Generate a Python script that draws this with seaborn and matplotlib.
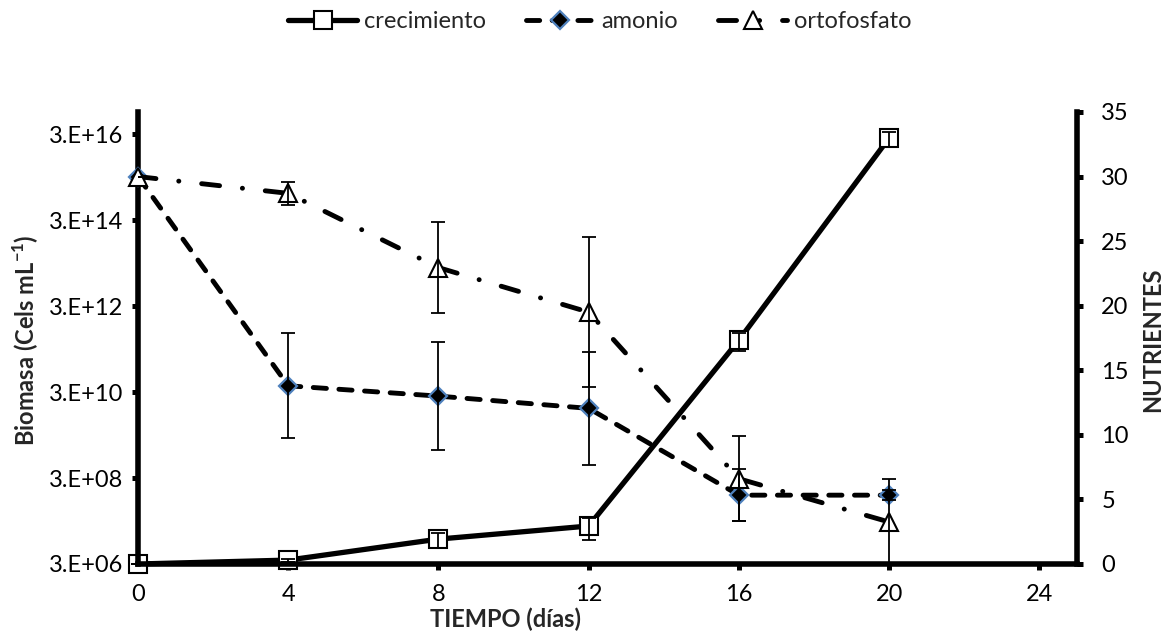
import matplotlib
matplotlib.use("Agg")
import matplotlib.pyplot as plt
import seaborn as sns
import pandas as pd

# ---- data ----
days = [0, 4, 8, 12, 16, 20]
crecimiento = [3.0e6, 3.7e6, 1.14e7, 2.3e7, 4.9e11, 2.5e16]
crecimiento_err = [0, 3e5, 4.5e6, 1.2e7, 2.2e11, 9.5e15]
amonio = [30.0, 13.8, 13.0, 12.05, 5.33, 5.33]
amonio_err = [0, 4.05, 4.2, 4.35, 2.0, 0.4]
ortofosfato = [30.0, 28.7, 22.95, 19.5, 6.6, 3.25]
ortofosfato_err = [0, 0.9, 3.5, 5.8, 3.3, 3.3]

left_ticks = [3e6, 3e8, 3e10, 3e12, 3e14, 3e16]
left_labels = ["3.E+06", "3.E+08", "3.E+10", "3.E+12", "3.E+14", "3.E+16"]
right_ticks = [0, 5, 10, 15, 20, 25, 30, 35]
x_ticks = [0, 4, 8, 12, 16, 20, 24]

sns.set_theme(style="white")
plt.rcParams["font.family"] = ["Lato", "DejaVu Sans"]
plt.rcParams["mathtext.fontset"] = "custom"
plt.rcParams["mathtext.rm"] = "Lato"
plt.rcParams["mathtext.bf"] = "Lato:bold"
plt.rcParams["lines.scale_dashes"] = False

df = pd.DataFrame({"dia": days, "crecimiento": crecimiento,
                   "amonio": amonio, "ortofosfato": ortofosfato})

FS = 17
W, H = 1168, 636
fig = plt.figure(figsize=(W / 100, H / 100), dpi=100)
ax = fig.add_axes([138 / W, 1 - 564 / H, (1077 - 138) / W, (564 - 112) / H])
ax.set_facecolor("none")
ax.set_yscale("log")

sns.lineplot(data=df, x="dia", y="crecimiento", ax=ax, color="black",
             linewidth=3.8, marker="s", markersize=13,
             markerfacecolor="white", markeredgecolor="black",
             markeredgewidth=1.5, label="crecimiento", clip_on=False,
             solid_joinstyle="round")
ax.errorbar(days, crecimiento, yerr=crecimiento_err, fmt="none",
            ecolor="black", elinewidth=1.3, capsize=5, capthick=1.3,
            zorder=5, clip_on=False)

ax2 = ax.twinx()
sns.lineplot(data=df, x="dia", y="amonio", ax=ax2, color="black",
             linewidth=3.5, linestyle=(0, (9.5, 9.0)),
             dash_capstyle="round", marker="D", markersize=9.5,
             markerfacecolor="black", markeredgecolor="#4F81BD",
             markeredgewidth=1.6, label="amonio", clip_on=False)
sns.lineplot(data=df, x="dia", y="ortofosfato", ax=ax2, color="black",
             linewidth=3.5, linestyle=(0, (13, 16.5, 0.1, 16.5)),
             dash_capstyle="round", marker="^", markersize=13,
             markerfacecolor="white", markeredgecolor="black",
             markeredgewidth=1.5, label="ortofosfato", clip_on=False)
ax2.errorbar(days, amonio, yerr=amonio_err, fmt="none", ecolor="black",
             elinewidth=1.3, capsize=5, capthick=1.3, zorder=5)
ax2.errorbar(days, ortofosfato, yerr=ortofosfato_err, fmt="none",
             ecolor="black", elinewidth=1.3, capsize=5, capthick=1.3,
             zorder=5)

# ---- axes ----
ax.set_xlim(0, 25)
ax.set_ylim(3e6, 1.0e17)
ax2.set_ylim(0, 35)
ax.set_xticks(x_ticks)
ax.set_xticklabels([str(t) for t in x_ticks])
ax.set_yticks(left_ticks)
ax.set_yticklabels(left_labels)
ax.yaxis.set_minor_locator(matplotlib.ticker.NullLocator())
ax2.set_yticks(right_ticks)
ax2.set_yticklabels([str(t) for t in right_ticks])

for a in (ax, ax2):
    a.spines["top"].set_visible(False)
ax.spines["right"].set_visible(False)
ax2.spines["left"].set_visible(False)
ax2.spines["bottom"].set_visible(False)
for s in ("left", "bottom"):
    ax.spines[s].set_linewidth(4)
    ax.spines[s].set_color("black")
ax2.spines["right"].set_linewidth(4)
ax2.spines["right"].set_color("black")

ax.tick_params(axis="y", which="major", direction="out", length=4.5,
               width=3.6, color="black", labelsize=FS, labelcolor="black",
               pad=6, left=True)
ax.tick_params(axis="x", which="major", direction="out", length=4.5,
               width=3.6, color="black", labelsize=FS, labelcolor="black",
               pad=10, bottom=True)
ax2.tick_params(axis="y", which="major", direction="out", length=4.5,
                width=3.6, color="black", labelsize=FS, labelcolor="black",
                pad=13, right=True)

ax.set_xlabel("")
ax.set_ylabel("")
ax2.set_ylabel("")
fig.text(505 / W, 1 - 619 / H, "TIEMPO (días)", ha="center", va="center",
         fontsize=FS, fontweight="bold")
fig.text(26 / W, 1 - 340 / H, r"Biomasa (Cels mL$^{\mathbf{-1}}$)",
         ha="center", va="center", rotation=90, fontsize=FS,
         fontweight="bold")
fig.text(1153 / W, 1 - 340 / H, "NUTRIENTES", ha="center", va="center",
         rotation=90, fontsize=FS, fontweight="bold")

# ---- legend ----
for a in (ax, ax2):
    if a.get_legend() is not None:
        a.get_legend().remove()
h1, l1 = ax.get_legend_handles_labels()
h2, l2 = ax2.get_legend_handles_labels()
fig.legend(h1 + h2, l1 + l2, loc="center", bbox_to_anchor=(600 / W, 1 - 22 / H),
           ncol=3, frameon=False, fontsize=FS, handlelength=2.9,
           handletextpad=0.3, columnspacing=1.7)

fig.savefig("out.png", dpi=100)
